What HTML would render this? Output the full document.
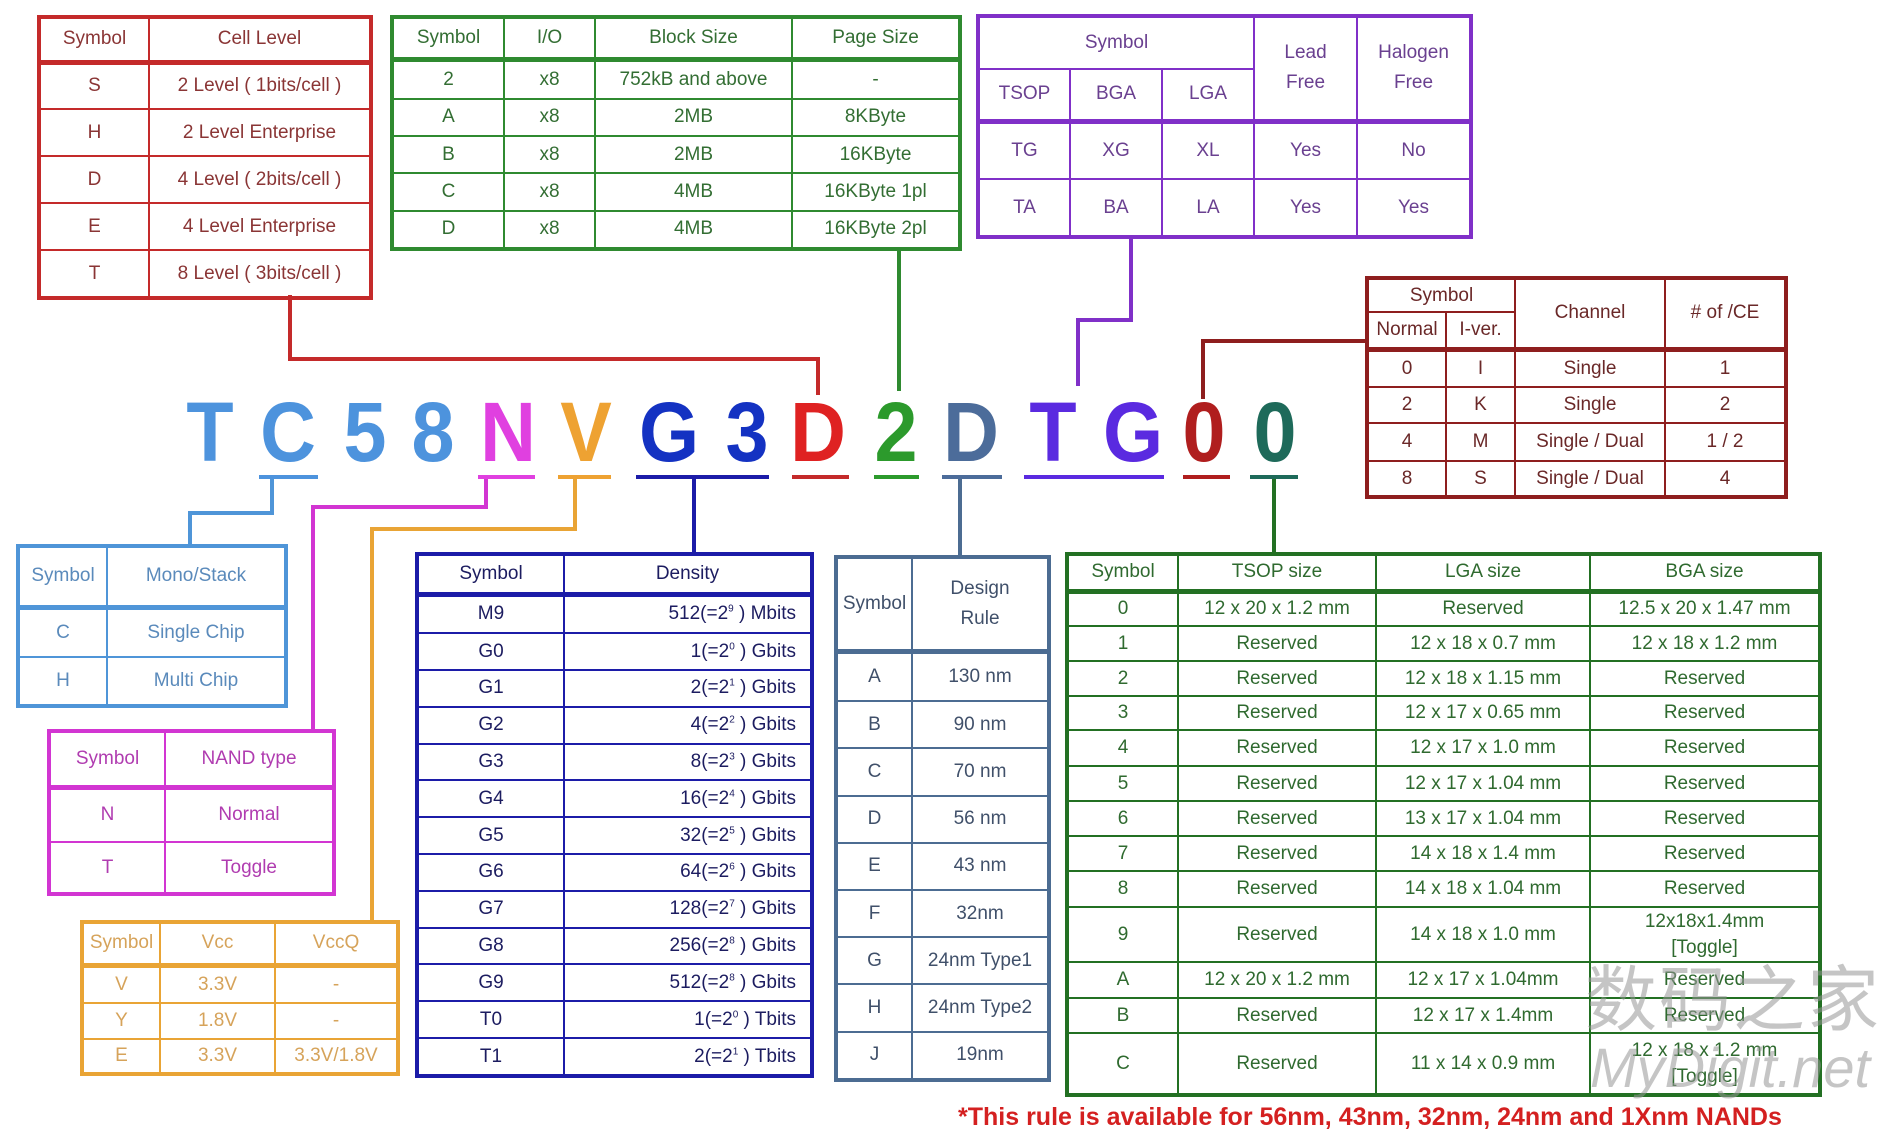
<!DOCTYPE html>
<html><head><meta charset="utf-8"><style>
body{margin:0;width:1902px;height:1142px;background:#fff;position:relative;overflow:hidden;font-family:"Liberation Sans",sans-serif}
table{position:absolute;border-collapse:collapse;table-layout:fixed;font-size:19px;text-align:center}
td{padding:0;white-space:nowrap;overflow:hidden}
.hd td{border-bottom-width:5px!important}
.L{position:absolute;font-weight:bold;font-size:84px;line-height:1;transform:translateX(-50%) scaleX(0.92)}
.u{position:absolute;height:4px;top:475px}
.c{position:absolute}
sup{font-size:10px}
.r td{border:2.5px solid #c42a2a;color:#8a3535}
.g td{border:2.5px solid #2f8a30;color:#336e33}
.p td{border:2.5px solid #8030c8;color:#6a4090}
.dr td{border:2.5px solid #8e1e1e;color:#6a2828}
.lb td{border:2.5px solid #4f95d8;color:#5a8abb}
.m td{border:2.5px solid #d235d2;color:#b03cb0}
.o td{border:2.5px solid #e9a435;color:#d6a35a}
.db td{border:2.5px solid #1c1ca8;color:#1c1c60}
.st td{border:2.5px solid #4c6c92;color:#40506a}
.dg td{border:2.5px solid #237023;color:#2f6a2f}
</style></head><body>

<div class="c" style="left:288px;top:295px;width:4px;height:66px;background:#c42a2a"></div>
<div class="c" style="left:288px;top:357px;width:532px;height:4px;background:#c42a2a"></div>
<div class="c" style="left:816px;top:357px;width:4px;height:38px;background:#c42a2a"></div>
<div class="c" style="left:897px;top:249px;width:4px;height:142px;background:#2f8a30"></div>
<div class="c" style="left:1129px;top:237px;width:4px;height:85px;background:#8030c8"></div>
<div class="c" style="left:1076px;top:318px;width:57px;height:4px;background:#8030c8"></div>
<div class="c" style="left:1076px;top:318px;width:4px;height:68px;background:#8030c8"></div>
<div class="c" style="left:1201px;top:339px;width:166px;height:4px;background:#8e1e1e"></div>
<div class="c" style="left:1201px;top:339px;width:4px;height:60px;background:#8e1e1e"></div>
<div class="c" style="left:270px;top:478px;width:4px;height:37px;background:#4f95d8"></div>
<div class="c" style="left:188px;top:511px;width:86px;height:4px;background:#4f95d8"></div>
<div class="c" style="left:188px;top:511px;width:4px;height:36px;background:#4f95d8"></div>
<div class="c" style="left:484px;top:478px;width:4px;height:31px;background:#d235d2"></div>
<div class="c" style="left:311px;top:505px;width:177px;height:4px;background:#d235d2"></div>
<div class="c" style="left:311px;top:505px;width:4px;height:227px;background:#d235d2"></div>
<div class="c" style="left:573px;top:478px;width:4px;height:53px;background:#e9a435"></div>
<div class="c" style="left:370px;top:527px;width:207px;height:4px;background:#e9a435"></div>
<div class="c" style="left:370px;top:527px;width:4px;height:396px;background:#e9a435"></div>
<div class="c" style="left:692px;top:478px;width:4px;height:77px;background:#1c1ca8"></div>
<div class="c" style="left:958px;top:478px;width:4px;height:80px;background:#4c6c92"></div>
<div class="c" style="left:1272px;top:478px;width:4px;height:77px;background:#237023"></div>

<div class="L" style="left:210px;top:390px;color:#4d93dd">T</div>
<div class="L" style="left:288px;top:390px;color:#4d93dd">C</div>
<div class="L" style="left:365px;top:390px;color:#4d93dd">5</div>
<div class="L" style="left:433px;top:390px;color:#4d93dd">8</div>
<div class="L" style="left:508px;top:390px;color:#e040e0">N</div>
<div class="L" style="left:586px;top:390px;color:#eea232">V</div>
<div class="L" style="left:669px;top:390px;color:#1432c2">G</div>
<div class="L" style="left:747px;top:390px;color:#1432c2">3</div>
<div class="L" style="left:818px;top:390px;color:#df2222">D</div>
<div class="L" style="left:896px;top:390px;color:#2c9a2c">2</div>
<div class="L" style="left:971px;top:390px;color:#4c6c9a">D</div>
<div class="L" style="left:1053px;top:390px;color:#5a2ae0">T</div>
<div class="L" style="left:1133px;top:390px;color:#5a2ae0">G</div>
<div class="L" style="left:1204px;top:390px;color:#b01e1e">0</div>
<div class="L" style="left:1275px;top:390px;color:#1e6a5a">0</div>

<div class="u" style="left:259px;width:59px;background:#4d93dd"></div>
<div class="u" style="left:478px;width:57px;background:#e040e0"></div>
<div class="u" style="left:558px;width:53px;background:#eea232"></div>
<div class="u" style="left:636px;width:133px;background:#1c1ca8"></div>
<div class="u" style="left:792px;width:57px;background:#c42a2a"></div>
<div class="u" style="left:874px;width:45px;background:#2c9a2c"></div>
<div class="u" style="left:942px;width:60px;background:#4c6c9a"></div>
<div class="u" style="left:1024px;width:140px;background:#5a2ae0"></div>
<div class="u" style="left:1183px;width:47px;background:#b01e1e"></div>
<div class="u" style="left:1250px;width:48px;background:#1e6a5a"></div>

<table class="r" style="left:39px;top:17px;width:332px;height:279px;outline:2px solid #c42a2a">
<col style="width:109px"><col>
<tr class="hd" style="height:44px"><td>Symbol</td><td>Cell Level</td></tr>
<tr style="height:47px"><td>S</td><td>2 Level ( 1bits/cell )</td></tr>
<tr style="height:47px"><td>H</td><td>2 Level Enterprise</td></tr>
<tr style="height:47px"><td>D</td><td>4 Level ( 2bits/cell )</td></tr>
<tr style="height:47px"><td>E</td><td>4 Level Enterprise</td></tr>
<tr style="height:47px"><td>T</td><td>8 Level ( 3bits/cell )</td></tr>
</table>

<table class="g" style="left:392px;top:17px;width:568px;height:232px;outline:2px solid #2f8a30">
<col style="width:111px"><col style="width:91px"><col style="width:197px"><col>
<tr class="hd" style="height:41px"><td>Symbol</td><td>I/O</td><td>Block Size</td><td>Page Size</td></tr>
<tr><td>2</td><td>x8</td><td>752kB and above</td><td>-</td></tr>
<tr><td>A</td><td>x8</td><td>2MB</td><td>8KByte</td></tr>
<tr><td>B</td><td>x8</td><td>2MB</td><td>16KByte</td></tr>
<tr><td>C</td><td>x8</td><td>4MB</td><td>16KByte 1pl</td></tr>
<tr><td>D</td><td>x8</td><td>4MB</td><td>16KByte 2pl</td></tr>
</table>

<table class="p" style="left:978px;top:16px;width:493px;height:221px;outline:2px solid #8030c8">
<col style="width:91px"><col style="width:92px"><col style="width:92px"><col style="width:103px"><col>
<tr style="height:52px"><td colspan="3">Symbol</td><td rowspan="2" style="white-space:normal;line-height:30px;border-bottom-width:5px">Lead<br>Free</td><td rowspan="2" style="line-height:30px;border-bottom-width:5px">Halogen<br>Free</td></tr>
<tr class="hd" style="height:52px"><td>TSOP</td><td>BGA</td><td>LGA</td></tr>
<tr style="height:58px"><td>TG</td><td>XG</td><td>XL</td><td>Yes</td><td>No</td></tr>
<tr><td>TA</td><td>BA</td><td>LA</td><td>Yes</td><td>Yes</td></tr>
</table>

<table class="dr" style="left:1367px;top:278px;width:419px;height:219px;outline:2px solid #8e1e1e">
<col style="width:78px"><col style="width:69px"><col style="width:150px"><col>
<tr style="height:33px"><td colspan="2">Symbol</td><td rowspan="2" style="border-bottom-width:5px">Channel</td><td rowspan="2" style="border-bottom-width:5px"># of /CE</td></tr>
<tr class="hd" style="height:37px"><td>Normal</td><td>I-ver.</td></tr>
<tr style="height:38px"><td>0</td><td>I</td><td>Single</td><td>1</td></tr>
<tr style="height:36px"><td>2</td><td>K</td><td>Single</td><td>2</td></tr>
<tr style="height:38px"><td>4</td><td>M</td><td>Single / Dual</td><td>1 / 2</td></tr>
<tr><td>8</td><td>S</td><td>Single / Dual</td><td>4</td></tr>
</table>

<table class="lb" style="left:18px;top:546px;width:268px;height:160px;outline:2px solid #4f95d8">
<col style="width:88px"><col>
<tr class="hd" style="height:60px"><td>Symbol</td><td>Mono/Stack</td></tr>
<tr style="height:50px"><td>C</td><td>Single Chip</td></tr>
<tr><td>H</td><td>Multi Chip</td></tr>
</table>

<table class="m" style="left:49px;top:731px;width:285px;height:163px;outline:2px solid #d235d2">
<col style="width:115px"><col>
<tr class="hd" style="height:55px"><td>Symbol</td><td>NAND type</td></tr>
<tr style="height:55px"><td>N</td><td>Normal</td></tr>
<tr><td>T</td><td>Toggle</td></tr>
</table>

<table class="o" style="left:82px;top:922px;width:316px;height:152px;outline:2px solid #e9a435">
<col style="width:77px"><col style="width:115px"><col>
<tr class="hd" style="height:42px"><td>Symbol</td><td>Vcc</td><td>VccQ</td></tr>
<tr style="height:38px"><td>V</td><td>3.3V</td><td>-</td></tr>
<tr style="height:36px"><td>Y</td><td>1.8V</td><td>-</td></tr>
<tr><td>E</td><td>3.3V</td><td>3.3V/1.8V</td></tr>
</table>

<table class="db" style="left:417px;top:554px;width:395px;height:522px;outline:2px solid #1c1ca8">
<col style="width:146px"><col>
<tr class="hd" style="height:39px"><td>Symbol</td><td>Density</td></tr>
<tr><td>M9</td><td style="text-align:right;padding-right:14px">512(=2<sup>9</sup> ) Mbits</td></tr>
<tr><td>G0</td><td style="text-align:right;padding-right:14px">1(=2<sup>0</sup> ) Gbits</td></tr>
<tr><td>G1</td><td style="text-align:right;padding-right:14px">2(=2<sup>1</sup> ) Gbits</td></tr>
<tr><td>G2</td><td style="text-align:right;padding-right:14px">4(=2<sup>2</sup> ) Gbits</td></tr>
<tr><td>G3</td><td style="text-align:right;padding-right:14px">8(=2<sup>3</sup> ) Gbits</td></tr>
<tr><td>G4</td><td style="text-align:right;padding-right:14px">16(=2<sup>4</sup> ) Gbits</td></tr>
<tr><td>G5</td><td style="text-align:right;padding-right:14px">32(=2<sup>5</sup> ) Gbits</td></tr>
<tr><td>G6</td><td style="text-align:right;padding-right:14px">64(=2<sup>6</sup> ) Gbits</td></tr>
<tr><td>G7</td><td style="text-align:right;padding-right:14px">128(=2<sup>7</sup> ) Gbits</td></tr>
<tr><td>G8</td><td style="text-align:right;padding-right:14px">256(=2<sup>8</sup> ) Gbits</td></tr>
<tr><td>G9</td><td style="text-align:right;padding-right:14px">512(=2<sup>8</sup> ) Gbits</td></tr>
<tr><td>T0</td><td style="text-align:right;padding-right:14px">1(=2<sup>0</sup> ) Tbits</td></tr>
<tr><td>T1</td><td style="text-align:right;padding-right:14px">2(=2<sup>1</sup> ) Tbits</td></tr>
</table>

<table class="st" style="left:836px;top:557px;width:213px;height:523px;outline:2px solid #4c6c92">
<col style="width:75px"><col>
<tr class="hd" style="height:93px"><td>Symbol</td><td style="line-height:30px">Design<br>Rule</td></tr>
<tr><td>A</td><td>130 nm</td></tr>
<tr><td>B</td><td>90 nm</td></tr>
<tr><td>C</td><td>70 nm</td></tr>
<tr><td>D</td><td>56 nm</td></tr>
<tr><td>E</td><td>43 nm</td></tr>
<tr><td>F</td><td>32nm</td></tr>
<tr><td>G</td><td>24nm Type1</td></tr>
<tr><td>H</td><td>24nm Type2</td></tr>
<tr><td>J</td><td>19nm</td></tr>
</table>

<table class="dg" style="left:1067px;top:554px;width:753px;height:541px;outline:2px solid #237023">
<col style="width:110px"><col style="width:198px"><col style="width:214px"><col>
<tr class="hd" style="height:36px"><td>Symbol</td><td>TSOP size</td><td>LGA size</td><td>BGA size</td></tr>
<tr style="height:35px"><td>0</td><td>12 x 20 x 1.2 mm</td><td>Reserved</td><td>12.5 x 20 x 1.47 mm</td></tr>
<tr style="height:35px"><td>1</td><td>Reserved</td><td>12 x 18 x 0.7 mm</td><td>12 x 18 x 1.2 mm</td></tr>
<tr style="height:35px"><td>2</td><td>Reserved</td><td>12 x 18 x 1.15 mm</td><td>Reserved</td></tr>
<tr style="height:34px"><td>3</td><td>Reserved</td><td>12 x 17 x 0.65 mm</td><td>Reserved</td></tr>
<tr style="height:36px"><td>4</td><td>Reserved</td><td>12 x 17 x 1.0 mm</td><td>Reserved</td></tr>
<tr style="height:35px"><td>5</td><td>Reserved</td><td>12 x 17 x 1.04 mm</td><td>Reserved</td></tr>
<tr style="height:35px"><td>6</td><td>Reserved</td><td>13 x 17 x 1.04 mm</td><td>Reserved</td></tr>
<tr style="height:35px"><td>7</td><td>Reserved</td><td>14 x 18 x 1.4 mm</td><td>Reserved</td></tr>
<tr style="height:36px"><td>8</td><td>Reserved</td><td>14 x 18 x 1.04 mm</td><td>Reserved</td></tr>
<tr style="height:55px"><td>9</td><td>Reserved</td><td>14 x 18 x 1.0 mm</td><td style="line-height:26px">12x18x1.4mm<br>[Toggle]</td></tr>
<tr style="height:36px"><td>A</td><td>12 x 20 x 1.2 mm</td><td>12 x 17 x 1.04mm</td><td>Reserved</td></tr>
<tr style="height:35px"><td>B</td><td>Reserved</td><td>12 x 17 x 1.4mm</td><td>Reserved</td></tr>
<tr><td>C</td><td>Reserved</td><td>11 x 14 x 0.9 mm</td><td style="line-height:26px">12 x 18 x 1.2 mm<br>[Toggle]</td></tr>
</table>

<div style="position:absolute;left:1585px;top:958px;font-family:'Noto Sans CJK SC',sans-serif;font-size:72px;color:rgba(150,150,150,0.55);line-height:1;letter-spacing:2px">数码之家</div>
<div style="position:absolute;left:1590px;top:1040px;font-family:'Liberation Sans',sans-serif;font-style:italic;font-size:56px;color:rgba(150,150,150,0.55);line-height:1">MyDigit.net</div>

<div style="position:absolute;left:958px;top:1103px;font-size:25px;font-weight:bold;color:#d42020;white-space:nowrap">*This rule is available for 56nm, 43nm, 32nm, 24nm and 1Xnm NANDs</div>
</body></html>
